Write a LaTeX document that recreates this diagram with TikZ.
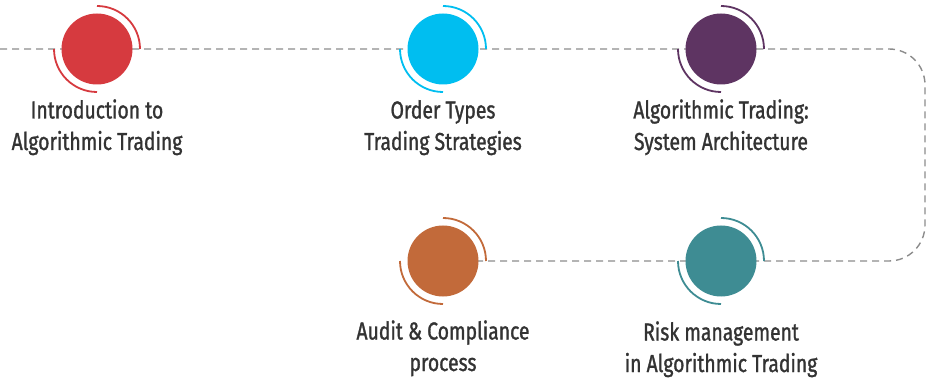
\documentclass[tikz,border=0pt]{standalone}
\usepackage{fontspec}
\setmainfont{Fira Sans}[FakeStretch=0.79,FakeBold=1.2]
\definecolor{cred}{HTML}{D63A3F}
\definecolor{cblue}{HTML}{00BEF0}
\definecolor{cpurple}{HTML}{5E3462}
\definecolor{corange}{HTML}{C26A3A}
\definecolor{cteal}{HTML}{3E8C93}
\definecolor{cdash}{HTML}{8C8C8C}
\definecolor{ctext}{HTML}{333333}
\tikzset{
  dot/.style={circle, minimum size=71pt, inner sep=0pt, fill=#1},
  ring/.style={draw=#1, line width=1.8pt},
  path line/.style={draw=cdash, line width=1.4pt, dash pattern=on 7pt off 5pt},
  label text/.style={text=ctext, align=center, anchor=base, font=\fontsize{24.5}{31.5}\selectfont, inner sep=0pt},
}
\begin{document}
\begin{tikzpicture}[x=1pt,y=1pt]
\useasboundingbox (0,0) rectangle (931,383);
\coordinate (s) at (0,334);
\coordinate (tr) at (925,334);
\coordinate (br) at (925,122);
\coordinate (p1) at (97,334);
\coordinate (p2) at (443,334);
\coordinate (p3) at (721,334);
\coordinate (p4) at (443,122);
\coordinate (p5) at (721,122);
\draw[path line, rounded corners=36pt] (s) -- (tr) -- (br) -- (p4);
\foreach \p/\c in {p1/cred,p2/cblue,p3/cpurple,p4/corange,p5/cteal}{
  \draw[ring=\c] ([shift={(0:43pt)}]\p) arc[start angle=0, end angle=90, radius=43pt];
  \draw[ring=\c] ([shift={(180:43pt)}]\p) arc[start angle=180, end angle=270, radius=43pt];
}
\node[dot=cred] (c1) at (p1) {};
\node[dot=cblue] (c2) at (p2) {};
\node[dot=cpurple] (c3) at (p3) {};
\node[dot=corange] (c4) at (p4) {};
\node[dot=cteal] (c5) at (p5) {};
\node[label text] (t1) at (97,233) {Introduction to\\Algorithmic Trading};
\node[label text] (t2) at (443,233) {Order Types\\Trading Strategies};
\node[label text] (t3) at (721,233) {Algorithmic Trading:\\System Architecture};
\node[label text] (t4) at (443,12) {Audit \& Compliance\\process};
\node[label text] (t5) at (721,11) {Risk management\\in Algorithmic Trading};
\end{tikzpicture}
\end{document}
